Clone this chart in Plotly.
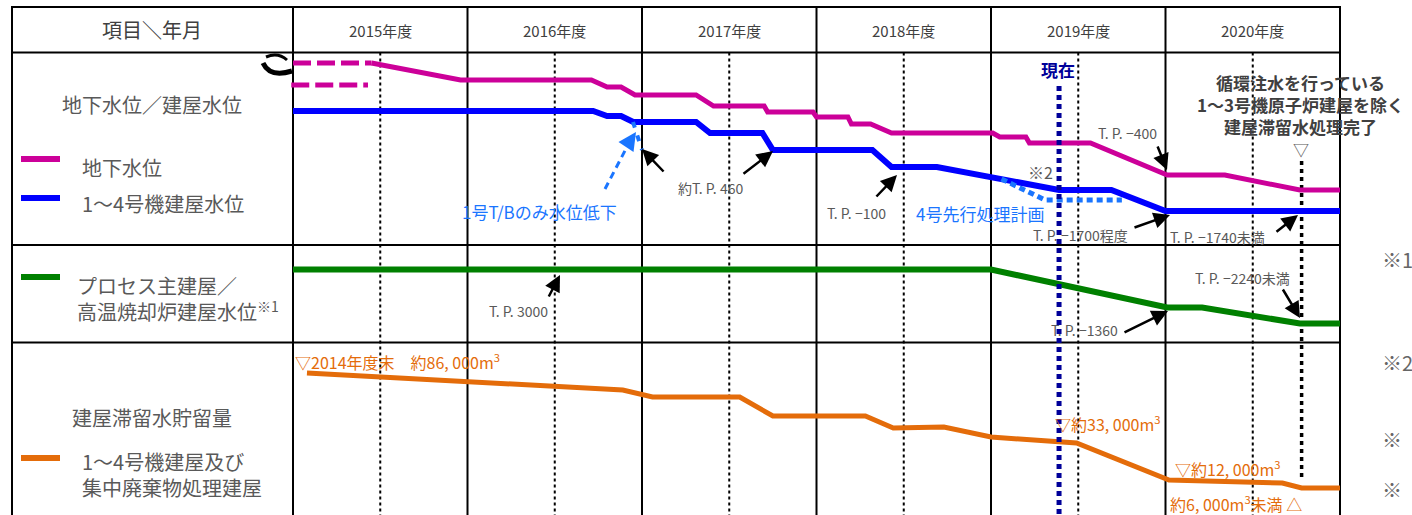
import plotly.graph_objects as go

# ---------------- data (fiscal-year time axis, schematic level per row) ----------------
years = [2015, 2016, 2017, 2018, 2019, 2020]
year_labels = ["2015年度", "2016年度", "2017年度", "2018年度", "2019年度", "2020年度"]

# groundwater level (row 1, schematic height)
gw_x = [2015.45, 2015.96, 2016.71, 2016.80, 2016.88, 2016.96, 2017.31, 2017.41, 2017.70,
        2017.72, 2017.98, 2018.00, 2018.18, 2018.20, 2018.31, 2018.43, 2019.01, 2019.05,
        2019.20, 2019.22, 2019.57, 2020.01, 2020.34, 2020.77, 2021.00]
gw_level = [182, 165, 165, 158, 158, 150, 150, 139, 139, 133, 133, 128, 128, 121, 121,
            112, 112, 108, 108, 102, 102, 70, 70, 55, 55]
gw_before_hi_x = [2015.00, 2015.45]
gw_before_hi = [182, 182]
gw_before_lo_x = [2014.99, 2015.43]
gw_before_lo = [160, 160]

# unit 1-4 building water level (row 1)
bw_x = [2015.00, 2016.72, 2016.80, 2016.88, 2016.95, 2017.31, 2017.39, 2017.69, 2017.75,
        2018.32, 2018.43, 2018.69, 2019.39, 2019.69, 2020.00, 2021.00]
bw_level = [134, 134, 129, 129, 123, 123, 112, 112, 95, 95, 78, 78, 55, 55, 34, 34]

# unit 4 advance treatment plan (row 1, dotted)
plan_x = [2019.06, 2019.31, 2019.75]
plan_level = [66, 45, 45]

# process main building / HTI building water level (row 2)
pw_x = [2015.00, 2019.00, 2020.01, 2020.21, 2020.77, 2021.00]
pw_level = [73, 73, 35, 35, 19, 19]

# stagnant water storage volume (row 3)
vol_x = [2015.08, 2016.89, 2017.06, 2017.56, 2017.75, 2018.28, 2018.44, 2018.73, 2019.00,
         2019.49, 2020.02, 2020.67, 2020.78, 2021.00]
vol_level = [142, 125, 118, 118, 99, 99, 87, 88, 78, 72, 35, 32, 27, 27]

now_fy = 2019.39
done_fy = 2020.78

# ---------------- layout helpers ----------------
W, H = 1412, 515
COL0, COLW = 293, 174.5
x_min = 2015 - COL0 / COLW
x_max = 2015 + (W - COL0) / COLW


def px(x):
    return x / W


def py(y):
    return 1 - y / H


FONT = "Noto Sans CJK JP"
GRAY = "#595959"
DARK = "#404040"
MAG = "#CC0099"
BLUE = "#0000FF"
LBLUE = "#1a75ff"
GREEN = "#008000"
ORANGE = "#E46C0A"
NAVY = "#000099"

TOP, HDR, R1B, R2B = 7, 52.5, 245, 342.5

fig = go.Figure()


def line(x, y, color, width, axis, dash="solid"):
    fig.add_trace(go.Scatter(x=x, y=y, mode="lines", yaxis=axis,
                             line=dict(color=color, width=width, dash=dash),
                             hoverinfo="skip", showlegend=False))


line(gw_before_hi_x, gw_before_hi, MAG, 5, "y", "18px,6px")
line(gw_before_lo_x, gw_before_lo, MAG, 5, "y", "18px,6px")
line(gw_x, gw_level, MAG, 5, "y")
line(bw_x, bw_level, BLUE, 6, "y")
line(plan_x, plan_level, LBLUE, 5, "y", "6px,4px")
line(pw_x, pw_level, GREEN, 6, "y2")
line(vol_x, vol_level, ORANGE, 5, "y3")

shapes = []
K = "black"
# table frame
for xp in [12, COL0, 1340]:
    shapes.append(dict(type="line", xref="paper", yref="paper", x0=px(xp), x1=px(xp),
                       y0=py(TOP), y1=py(H + 2), line=dict(color=K, width=2), layer="below"))
for yr in years[1:]:
    shapes.append(dict(type="line", xref="x", yref="paper", x0=yr, x1=yr,
                       y0=py(TOP), y1=py(H + 2), line=dict(color=K, width=2), layer="below"))
for yp in [TOP, HDR, R1B, R2B]:
    shapes.append(dict(type="line", xref="paper", yref="paper", x0=px(11), x1=px(1341),
                       y0=py(yp), y1=py(yp), line=dict(color=K, width=2), layer="below"))
# mid-year dotted lines
for yr in years:
    shapes.append(dict(type="line", xref="x", yref="paper", x0=yr + 0.5, x1=yr + 0.5,
                       y0=py(HDR), y1=py(H + 2), line=dict(color=K, width=2, dash="3px,3px"),
                       layer="below"))
# completion marker
shapes.append(dict(type="line", xref="x", yref="paper", x0=done_fy, x1=done_fy,
                   y0=py(161), y1=py(478), line=dict(color=K, width=3.5, dash="4px,4px"),
                   layer="below"))
# now marker
shapes.append(dict(type="line", xref="x", yref="paper", x0=now_fy, x1=now_fy,
                   y0=py(86), y1=py(H + 2), line=dict(color=NAVY, width=5, dash="5px,4px"),
                   layer="above"))
# legend swatches
for yp, c in [(159, MAG), (198, BLUE), (277, GREEN), (458, ORANGE)]:
    shapes.append(dict(type="line", xref="paper", yref="paper", x0=px(21), x1=px(60),
                       y0=py(yp), y1=py(yp), line=dict(color=c, width=6)))
# light-blue dashed pointer shaft and drop segment
shapes.append(dict(type="line", xref="paper", yref="paper", x0=px(605), y0=py(189),
                   x1=px(629), y1=py(143), line=dict(color=LBLUE, width=3, dash="7px,5px")))
shapes.append(dict(type="line", xref="paper", yref="paper", x0=px(633), y0=py(122),
                   x1=px(642), y1=py(150), line=dict(color=LBLUE, width=4, dash="6px,8px")))


# break mark
def ppath(pts):
    s = ""
    for cmd, coords in pts:
        s += cmd + " " + " ".join(f"{px(a):.5f},{py(b):.5f}" for a, b in coords) + " "
    return s.strip()


shapes.append(dict(type="path", xref="paper", yref="paper",
                   path=ppath([("M", [(266, 57)]), ("Q", [(278, 52), (287, 60)])]),
                   line=dict(color=K, width=3)))
shapes.append(dict(type="path", xref="paper", yref="paper",
                   path=ppath([("M", [(263, 63)]), ("Q", [(270, 78), (292, 71)])]),
                   line=dict(color=K, width=5)))

annotations = []


def text(t, x, y, size=14, color=GRAY, xanchor="center", bold=False, xref="paper",
         align="center"):
    if bold:
        t = "<b>" + t + "</b>"
    annotations.append(dict(text=t, x=px(x) if xref == "paper" else x, y=py(y),
                            xref=xref, yref="paper", xanchor=xanchor, yanchor="middle",
                            align=align, showarrow=False,
                            font=dict(family=FONT, size=size, color=color)))


def arrow(tail, tip, color=K, width=2.5, size=1.3):
    annotations.append(dict(text="", x=px(tip[0]), y=py(tip[1]), xref="paper", yref="paper",
                            ax=tail[0] - tip[0], ay=tail[1] - tip[1], showarrow=True,
                            arrowhead=2, arrowsize=size, arrowwidth=width, arrowcolor=color))


# header
text("項目＼年月", 152, 30, 20, DARK)
for yr, lab in zip(years, year_labels):
    text(lab, yr + 0.5, 31, 15, DARK, xref="x")

# left column labels
text("地下水位／建屋水位", 152, 104, 20, GRAY)
text("地下水位", 80, 167, 20, GRAY, "left")
text("1～4号機建屋水位", 80, 203, 20, GRAY, "left")
text("プロセス主建屋／<br>高温焼却炉建屋水位<sup>※1</sup>", 75, 298, 20, GRAY, "left",
     align="left")
text("建屋滞留水貯留量", 152, 417, 20, GRAY)
text("1～4号機建屋及び<br>集中廃棄物処理建屋", 80, 474, 20, GRAY, "left", align="left")

# row 1 notes
text("現在", 1058, 70, 17, NAVY, bold=True)
text("循環注水を行っている<br>1～3号機原子炉建屋を除く<br>建屋滞留水処理完了", 1300, 104, 17,
     DARK, bold=True)
text("▽", 1301, 149, 16, GRAY)
text("1号T/Bのみ水位低下", 539, 211, 17, LBLUE)
text("4号先行処理計画", 980, 213, 17, LBLUE)
text("約T. P. 460", 710, 188, 14, GRAY)
text("T. P. −100", 856, 213, 14, GRAY)
text("※2", 1040, 172, 16, GRAY)
text("T. P. −400", 1127, 133, 14, GRAY)
text("T. P. −1700程度", 1080, 235, 14, GRAY)
text("T. P. −1740未満", 1217, 237, 14, GRAY)
arrow((665, 173), (642, 149))
arrow((742, 175), (773, 151))
arrow((875, 198), (897, 175))
arrow((1157, 145), (1167, 170))
arrow((1133, 228), (1170, 215))
arrow((1275, 233), (1298, 215))
arrow((626, 147), (636, 132), LBLUE, 3, 1.2)

# row 2 notes
text("T. P. 3000", 518, 311, 14, GRAY)
text("T. P. −1360", 1084, 330, 14, GRAY)
text("T. P. −2240未満", 1242, 278, 14, GRAY)
arrow((548, 298), (560, 275))
arrow((1123, 333), (1168, 311))
arrow((1282, 288), (1300, 318))

# row 3 notes
text("▽2014年度末　約86, 000m<sup>3</sup>", 293, 361, 16, ORANGE, "left")
text("▽約33, 000m<sup>3</sup>", 1053, 423, 16, ORANGE, "left")
text("▽約12, 000m<sup>3</sup>", 1173, 468, 16, ORANGE, "left")
text("約6, 000m<sup>3</sup>未満 △", 1168, 503, 16, ORANGE, "left")

# right-side footnote marks
for t, yp in [("※1", 259), ("※2", 362), ("※", 439), ("※", 489)]:
    text(t, 1380, yp, 20, "#666666", "left")

fig.update_layout(
    width=W, height=H, autosize=False,
    margin=dict(l=0, r=0, t=0, b=0),
    paper_bgcolor="white", plot_bgcolor="white",
    xaxis=dict(range=[x_min, x_max], visible=False, fixedrange=True),
    yaxis=dict(domain=[py(R1B), py(HDR)], range=[0, R1B - HDR], visible=False),
    yaxis2=dict(domain=[py(R2B), py(R1B)], range=[0, R2B - R1B], visible=False),
    yaxis3=dict(domain=[0, py(R2B)], range=[0, H - R2B], visible=False),
    shapes=shapes, annotations=annotations, showlegend=False,
)

fig.write_html("out.html", config={"displayModeBar": False},
               post_script="document.body.style.margin='0';document.body.style.overflow='hidden';")
